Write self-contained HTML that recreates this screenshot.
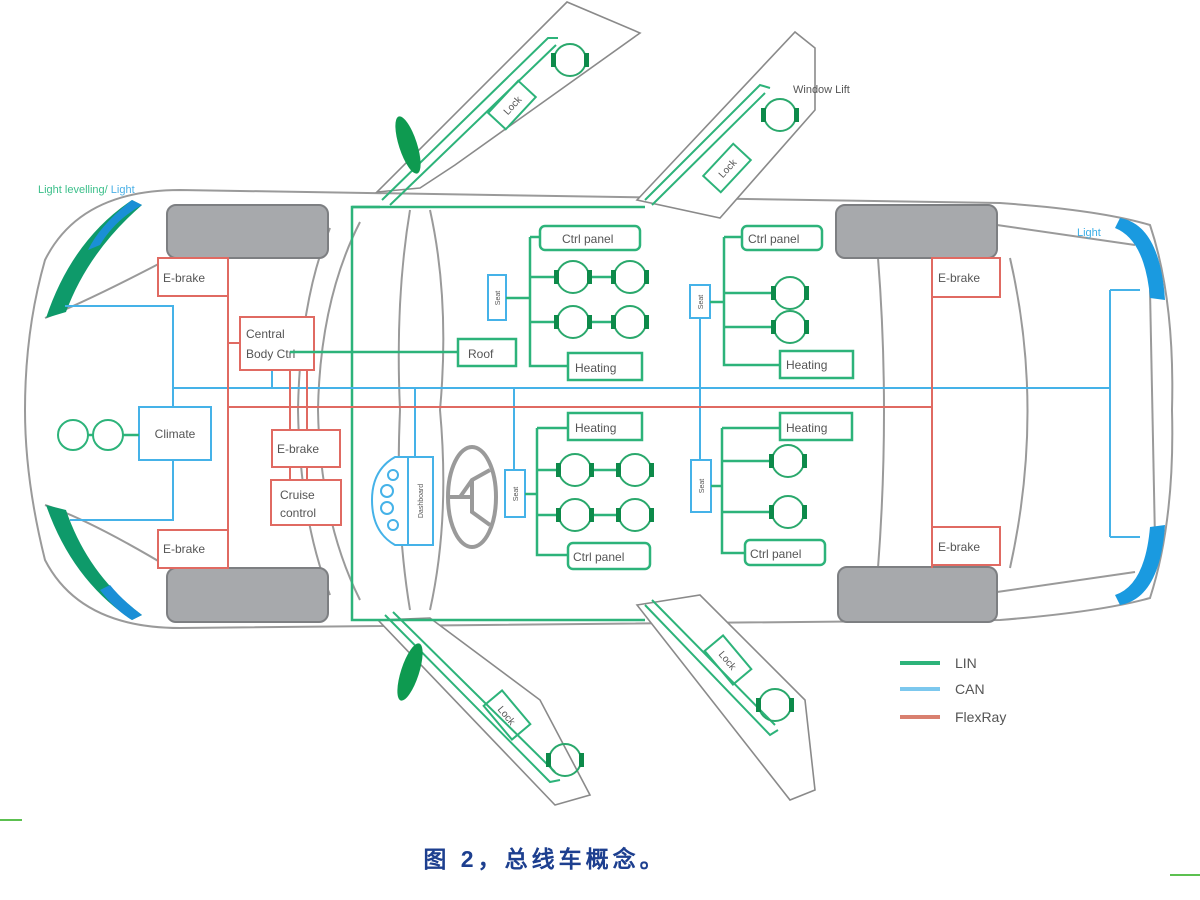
<!DOCTYPE html>
<html><head><meta charset="utf-8"><style>
html,body{margin:0;padding:0;background:#fff;width:1200px;height:900px;overflow:hidden}
svg{display:block}
text{font-family:"Liberation Sans",sans-serif}
</style></head><body>
<svg width="1200" height="900" viewBox="0 0 1200 900" xmlns="http://www.w3.org/2000/svg">
<defs>
<g id="mot"><circle r="16" fill="none" stroke="#2aa86c" stroke-width="2"/><rect x="-19" y="-7" width="5" height="14" fill="#0d8a4a"/><rect x="14" y="-7" width="5" height="14" fill="#0d8a4a"/></g>
</defs>
<g fill="none" stroke="#9a9a9a" stroke-width="2">
<path d="M180,190 L1000,203 Q1100,210 1150,225 Q1175,300 1172,410 Q1175,520 1150,598 Q1100,612 1000,620 L180,628 Q80,628 45,560 Q25,480 25,410 Q25,330 45,260 Q80,190 180,190 Z"/>
<path d="M45,318 Q90,300 170,258"/><path d="M45,505 Q90,520 170,568"/>
<path d="M330,228 Q300,300 298,410 Q300,520 330,595"/>
<path d="M360,222 Q320,300 318,410 Q320,520 360,600"/>
<path d="M410,210 Q395,300 400,410 Q395,520 410,610"/>
<path d="M430,210 Q450,300 440,410 Q450,520 430,610"/>
<path d="M878,258 Q890,410 878,568"/>
<path d="M1010,258 Q1045,410 1010,568"/>
<path d="M997,225 L1135,245"/><path d="M997,592 L1135,572"/>
<path d="M1150,290 L1155,540"/>
</g>
<g fill="#fff" stroke="#8a8a8a" stroke-width="1.6">
<polygon points="377,192 567,2 640,33 455,165 420,188"/>
<polygon points="637,200 795,32 815,48 815,110 720,218"/>
<polygon points="378,620 430,618 540,700 590,795 555,805"/>
<polygon points="637,605 700,595 805,700 815,790 790,800"/>
</g>
<g fill="none" stroke="#2db37a" stroke-width="2">
<path d="M382,200 L548,38 L558,38"/><path d="M390,205 L556,45"/>
<path d="M645,200 L760,85 L770,88"/><path d="M652,205 L765,93"/>
<path d="M385,615 L550,782 L560,780"/><path d="M393,612 L555,772"/>
<path d="M645,605 L770,735 L778,730"/><path d="M652,600 L775,725"/>
</g>
<g fill="none" stroke="#2db37a" stroke-width="2">
<g transform="translate(512,105) rotate(-47)"><rect x="-22" y="-12" width="44" height="24"/><text x="0" y="4" font-size="10" text-anchor="middle" fill="#555" stroke="none">Lock</text></g>
<g transform="translate(727,168) rotate(-47)"><rect x="-22" y="-12" width="44" height="24"/><text x="0" y="4" font-size="10" text-anchor="middle" fill="#555" stroke="none">Lock</text></g>
<g transform="translate(507,715) rotate(50)"><rect x="-22" y="-12" width="44" height="24"/><text x="0" y="4" font-size="10" text-anchor="middle" fill="#555" stroke="none">Lock</text></g>
<g transform="translate(728,660) rotate(50)"><rect x="-22" y="-12" width="44" height="24"/><text x="0" y="4" font-size="10" text-anchor="middle" fill="#555" stroke="none">Lock</text></g>
</g>
<use href="#mot" x="570" y="60"/><use href="#mot" x="780" y="115"/>
<use href="#mot" x="565" y="760"/><use href="#mot" x="775" y="705"/>
<text x="793" y="93" font-size="11" fill="#555">Window Lift</text>
<ellipse cx="408" cy="145" rx="9" ry="30" transform="rotate(-18 408 145)" fill="#0e9a50"/>
<ellipse cx="410" cy="672" rx="9" ry="30" transform="rotate(18 410 672)" fill="#0e9a50"/>
<g fill="#a7a9ac" stroke="#7d7f82" stroke-width="2">
<rect x="167" y="205" width="161" height="53" rx="9"/><rect x="167" y="568" width="161" height="54" rx="9"/>
<rect x="836" y="205" width="161" height="53" rx="9"/><rect x="838" y="567" width="159" height="55" rx="9"/>
</g>
<path d="M132,200 Q72,240 46,318 L66,312 Q88,252 142,205 Z" fill="#0e9a6a"/>
<path d="M132,200 Q100,225 88,250 L100,245 Q115,220 142,205Z" fill="#1a8fd6"/>
<path d="M46,505 Q72,580 132,620 L142,615 Q88,575 66,510 Z" fill="#0e9a6a"/>
<path d="M100,590 Q115,610 132,620 L142,615 Q122,600 110,585Z" fill="#1a8fd6"/>
<path d="M1120,218 Q1160,225 1165,300 L1150,298 Q1145,240 1115,228Z" fill="#1a9ae0"/>
<path d="M1120,605 Q1160,598 1165,525 L1150,527 Q1145,585 1115,595Z" fill="#1a9ae0"/>
<text x="38" y="193" font-size="11" fill="#3bbf8a">Light levelling/ <tspan fill="#4ab0e6">Light</tspan></text>
<text x="1077" y="236" font-size="11" fill="#3aaee6">Light</text>
<g fill="none" stroke="#2db37a" stroke-width="2.5">
<path d="M380,207 L352,207 L352,620 L645,620"/><path d="M352,207 L645,207"/>
</g>
<g fill="none" stroke="#45b2e8" stroke-width="2">
<path d="M65,306 L173,306 L173,520 L70,520"/>
<path d="M173,388 L1110,388"/>
<path d="M1110,290 L1110,537"/><path d="M1110,290 L1140,290"/><path d="M1110,537 L1140,537"/>
<path d="M272,370 L272,388"/>
<path d="M415,388 L415,457"/><path d="M514,388 L514,470"/>
<path d="M700,318 L700,460"/>
<rect x="139" y="407" width="72" height="53" fill="#fff"/>
<rect x="488" y="275" width="18" height="45" fill="#fff"/>
<rect x="690" y="285" width="20" height="33" fill="#fff"/>
<rect x="505" y="470" width="20" height="47" fill="#fff"/>
<rect x="691" y="460" width="20" height="52" fill="#fff"/>
<path d="M408,457 L395,457 Q372,470 372,500 Q372,532 395,545 L433,545 L433,457 Z" fill="#fff"/>
<line x1="408" y1="457" x2="408" y2="545"/>
<circle cx="393" cy="475" r="5"/><circle cx="387" cy="491" r="6"/><circle cx="387" cy="508" r="6"/><circle cx="393" cy="525" r="5"/>
</g>
<text x="175" y="438" font-size="12" fill="#555" text-anchor="middle">Climate</text>
<g font-size="7" fill="#555" text-anchor="middle">
<text transform="translate(500,298) rotate(-90)">Seat</text>
<text transform="translate(703,302) rotate(-90)">Seat</text>
<text transform="translate(518,494) rotate(-90)">Seat</text>
<text transform="translate(704,486) rotate(-90)">Seat</text>
<text transform="translate(423,501) rotate(-90)">Dashboard</text>
</g>
<g fill="none" stroke="#9a9a9a" stroke-width="4">
<ellipse cx="472" cy="497" rx="24" ry="50"/>
<path d="M460,497 L472,480 L490,470 M472,480 L472,512 L490,525 M472,497 L448,497"/>
</g>
<g fill="none" stroke="#e06a62" stroke-width="2">
<path d="M228,258 L228,568"/><path d="M228,407 L932,407"/><path d="M932,258 L932,568"/>
<path d="M228,343 L240,343"/>
<path d="M307,370 L307,430"/><path d="M290,370 L290,430"/>
<path d="M290,467 L290,480"/><path d="M307,467 L307,480"/>
<rect x="158" y="258" width="70" height="38" fill="#fff"/>
<rect x="158" y="530" width="70" height="38" fill="#fff"/>
<rect x="240" y="317" width="74" height="53" fill="#fff"/>
<rect x="272" y="430" width="68" height="37" fill="#fff"/>
<rect x="271" y="480" width="70" height="45" fill="#fff"/>
<rect x="932" y="258" width="68" height="39" fill="#fff"/>
<rect x="932" y="527" width="68" height="38" fill="#fff"/>
</g>
<g font-size="12" fill="#555">
<text x="163" y="282">E-brake</text><text x="163" y="553">E-brake</text>
<text x="246" y="338">Central</text><text x="246" y="358">Body Ctrl</text>
<text x="277" y="453">E-brake</text>
<text x="280" y="499">Cruise</text><text x="280" y="517">control</text>
<text x="938" y="282">E-brake</text><text x="938" y="551">E-brake</text>
</g>
<line x1="290" y1="352" x2="458" y2="352" stroke="#2db37a" stroke-width="2.5"/>
<g fill="none" stroke="#2db37a" stroke-width="2.5">
<rect x="458" y="339" width="58" height="27" fill="#fff"/>
<path d="M506,298 L530,298 M530,237 L530,366 L568,366 M530,237 L540,237 M530,277 L555,277 M530,322 L555,322 M590,277 L612,277 M590,322 L612,322"/>
<rect x="540" y="226" width="100" height="24" rx="5" fill="#fff"/>
<rect x="568" y="353" width="74" height="27" fill="#fff"/>
<path d="M710,302 L724,302 M724,237 L724,365 L780,365 M724,237 L742,237 M724,293 L772,293 M724,327 L772,327"/>
<rect x="742" y="226" width="80" height="24" rx="5" fill="#fff"/>
<rect x="780" y="351" width="73" height="27" fill="#fff"/>
<path d="M525,494 L537,494 M537,428 L537,555 L568,555 M537,428 L568,428 M537,470 L557,470 M537,515 L557,515 M593,470 L617,470 M593,515 L617,515"/>
<rect x="568" y="413" width="74" height="27" fill="#fff"/>
<rect x="568" y="543" width="82" height="26" rx="5" fill="#fff"/>
<path d="M711,486 L722,486 M722,428 L722,553 L745,553 M722,428 L780,428 M722,461 L770,461 M722,512 L770,512"/>
<rect x="780" y="413" width="72" height="27" fill="#fff"/>
<rect x="745" y="540" width="80" height="25" rx="5" fill="#fff"/>
<path d="M88,435 L93,435 M123,435 L139,435"/>
</g>
<use href="#mot" x="573" y="277"/><use href="#mot" x="630" y="277"/><use href="#mot" x="573" y="322"/><use href="#mot" x="630" y="322"/>
<use href="#mot" x="790" y="293"/><use href="#mot" x="790" y="327"/>
<use href="#mot" x="575" y="470"/><use href="#mot" x="635" y="470"/><use href="#mot" x="575" y="515"/><use href="#mot" x="635" y="515"/>
<use href="#mot" x="788" y="461"/><use href="#mot" x="788" y="512"/>
<g fill="none" stroke="#2db37a" stroke-width="2"><circle cx="73" cy="435" r="15"/><circle cx="108" cy="435" r="15"/></g>
<g font-size="12" fill="#555">
<text x="468" y="358">Roof</text>
<text x="562" y="243">Ctrl panel</text><text x="575" y="372">Heating</text>
<text x="748" y="243">Ctrl panel</text><text x="786" y="369">Heating</text>
<text x="575" y="432">Heating</text><text x="573" y="561">Ctrl panel</text>
<text x="786" y="432">Heating</text><text x="750" y="558">Ctrl panel</text>
</g>
<g stroke-width="4"><line x1="900" y1="663" x2="940" y2="663" stroke="#2db37a"/><line x1="900" y1="689" x2="940" y2="689" stroke="#7cc8ee"/><line x1="900" y1="717" x2="940" y2="717" stroke="#d9806f"/></g>
<g font-size="14" fill="#555"><text x="955" y="668">LIN</text><text x="955" y="694">CAN</text><text x="955" y="722">FlexRay</text></g>
<line x1="0" y1="820" x2="22" y2="820" stroke="#5cc050" stroke-width="2"/>
<line x1="1170" y1="875" x2="1200" y2="875" stroke="#5cc050" stroke-width="2"/>
<text x="545" y="867" font-size="23" font-weight="bold" letter-spacing="4" fill="#1d3f8f" text-anchor="middle" font-family="'Liberation Sans','Noto Sans CJK SC',sans-serif">图 2，总线车概念。</text>
</svg>
</body></html>
